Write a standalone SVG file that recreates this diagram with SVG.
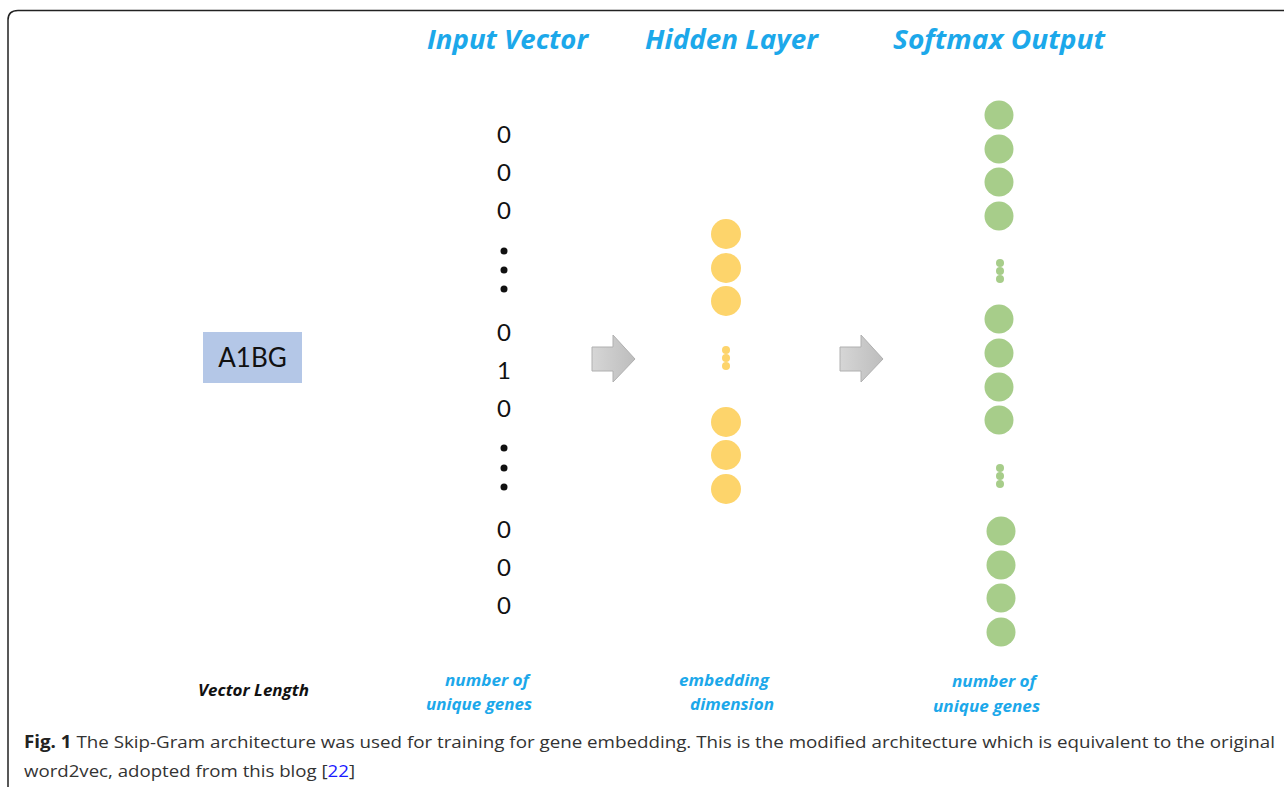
<svg xmlns="http://www.w3.org/2000/svg" width="1284" height="787" viewBox="0 0 1284 787">
<style>
.title{font-family:"Open Sans","Liberation Sans",sans-serif;font-weight:bold;font-style:italic;font-size:26px;fill:#1ca8ea}
.lbl{font-family:"Open Sans","Liberation Sans",sans-serif;font-weight:bold;font-style:italic;font-size:16px;fill:#1ca8ea}
.dig{font-family:Lato,"Liberation Sans",sans-serif;font-size:24px;fill:#111}
.cap{font-family:"Open Sans","Liberation Sans",sans-serif;font-size:17px;fill:#333}
.y{fill:#fdd46b}
.g{fill:#a7cd8a}
.k{fill:#111}
.arr{fill:url(#ag);stroke:#b0b0b0;stroke-width:1}
</style>
<defs>
<linearGradient id="ag" x1="0" y1="0" x2="1" y2="0">
<stop offset="0" stop-color="#d6d6d6"/>
<stop offset="1" stop-color="#bdbdbd"/>
</linearGradient>
</defs>
<rect width="1284" height="787" fill="#fff"/>
<path d="M8 787 L8 20 Q8 10.5 18 10.5 L1284 10.5" fill="none" stroke="#222" stroke-width="1.5"/>

<g id="titles">
<text class="title" x="427" y="49" textLength="161" lengthAdjust="spacingAndGlyphs">Input Vector</text>
<text class="title" x="645" y="49" textLength="173" lengthAdjust="spacingAndGlyphs">Hidden Layer</text>
<text class="title" x="893" y="49" textLength="212" lengthAdjust="spacingAndGlyphs">Softmax Output</text>
</g>

<g id="word">
<rect x="203" y="332" width="99" height="51" fill="#b4c7e7"/>
<text x="252.5" y="367" text-anchor="middle" font-family="Lato,'Liberation Sans',sans-serif" font-size="26" fill="#111">A1BG</text>
</g>

<g id="input-vector">
<g class="dig" text-anchor="middle">
<text x="504" y="143">0</text>
<text x="504" y="181">0</text>
<text x="504" y="219">0</text>
<text x="504" y="341">0</text>
<text x="504" y="379">1</text>
<text x="504" y="417">0</text>
<text x="504" y="538">0</text>
<text x="504" y="576">0</text>
<text x="504" y="614">0</text>
</g>
<circle class="k" cx="504" cy="251" r="3.5"/>
<circle class="k" cx="504" cy="270" r="3.5"/>
<circle class="k" cx="504" cy="289" r="3.5"/>
<circle class="k" cx="504" cy="448" r="3.5"/>
<circle class="k" cx="504" cy="468" r="3.5"/>
<circle class="k" cx="504" cy="487" r="3.5"/>
</g>

<g id="hidden-layer">
<circle class="y" cx="726" cy="234" r="15"/>
<circle class="y" cx="726" cy="268" r="15"/>
<circle class="y" cx="726" cy="301" r="15"/>
<circle class="y" cx="726" cy="350" r="4"/>
<circle class="y" cx="726" cy="358" r="4"/>
<circle class="y" cx="726" cy="366" r="4"/>
<circle class="y" cx="726" cy="422" r="15"/>
<circle class="y" cx="726" cy="455" r="15"/>
<circle class="y" cx="726" cy="489" r="15"/>
</g>

<g id="softmax-output">
<circle class="g" cx="999" cy="115" r="14.5"/>
<circle class="g" cx="999" cy="149" r="14.5"/>
<circle class="g" cx="999" cy="182" r="14.5"/>
<circle class="g" cx="999" cy="216" r="14.5"/>
<circle class="g" cx="1000" cy="263" r="4"/>
<circle class="g" cx="1000" cy="271" r="4"/>
<circle class="g" cx="1000" cy="279" r="4"/>
<circle class="g" cx="999" cy="319" r="14.5"/>
<circle class="g" cx="999" cy="353" r="14.5"/>
<circle class="g" cx="999" cy="387" r="14.5"/>
<circle class="g" cx="999" cy="420" r="14.5"/>
<circle class="g" cx="1000" cy="468" r="4"/>
<circle class="g" cx="1000" cy="476" r="4"/>
<circle class="g" cx="1000" cy="484" r="4"/>
<circle class="g" cx="1001" cy="531" r="14.5"/>
<circle class="g" cx="1001" cy="565" r="14.5"/>
<circle class="g" cx="1001" cy="598" r="14.5"/>
<circle class="g" cx="1001" cy="632" r="14.5"/>
</g>

<g id="connectors">
<path class="arr" d="M592 347 L613 347 L613 335 L635 359 L613 382 L613 371 L592 371 Z"/>
<path class="arr" d="M840 347 L861 347 L861 335 L883 359 L861 382 L861 371 L840 371 Z"/>
</g>

<g id="labels">
<text x="198" y="696" font-family="'Open Sans','Liberation Sans',sans-serif" font-weight="bold" font-style="italic" font-size="16" fill="#111" textLength="111" lengthAdjust="spacingAndGlyphs">Vector Length</text>
<text class="lbl" x="445" y="686" textLength="84" lengthAdjust="spacingAndGlyphs">number of</text>
<text class="lbl" x="426" y="710" textLength="106" lengthAdjust="spacingAndGlyphs">unique genes</text>
<text class="lbl" x="679" y="686" textLength="90" lengthAdjust="spacingAndGlyphs">embedding</text>
<text class="lbl" x="690" y="710" textLength="84" lengthAdjust="spacingAndGlyphs">dimension</text>
<text class="lbl" x="952" y="687" textLength="84" lengthAdjust="spacingAndGlyphs">number of</text>
<text class="lbl" x="933" y="712" textLength="107" lengthAdjust="spacingAndGlyphs">unique genes</text>
</g>

<g id="caption">
<text class="cap" x="24" y="748" textLength="1251" lengthAdjust="spacingAndGlyphs"><tspan font-weight="bold" fill="#222">Fig. 1</tspan> The Skip-Gram architecture was used for training for gene embedding. This is the modified architecture which is equivalent to the original</text>
<text class="cap" x="24" y="777" textLength="331" lengthAdjust="spacingAndGlyphs">word2vec, adopted from this blog [<tspan fill="#1a1aff">22</tspan>]</text>
</g>
</svg>
